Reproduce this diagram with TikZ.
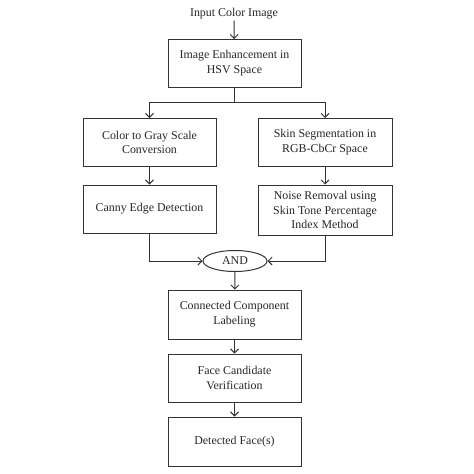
\documentclass[tikz,border=0pt]{standalone}
\usepackage{fontspec}
\setmainfont{Liberation Serif}
\usetikzlibrary{arrows.meta,shapes.geometric}
\begin{document}
\begin{tikzpicture}[x=1pt,y=-1pt,
  every node/.style={font=\fontsize{11.9}{14.8}\selectfont, text=black!85},
  stepbox/.style={draw=black!80, line width=1pt, minimum width=133pt, minimum height=48pt, inner sep=0pt, align=center},
  conn/.style={draw=black!80, line width=1pt},
  arr/.style={conn, -{Straight Barb[length=4pt,width=8pt,line width=0.9pt]}}]
\useasboundingbox (0,0) rectangle (474,474);
\node[inner sep=1pt] (title) at (234,14) {Input Color Image};
\node[stepbox] (b1) at (234.5,63.5) {Image Enhancement in\\HSV Space};
\node[stepbox] (b2L) at (149.5,142.5) {Color to Gray Scale\\Conversion};
\node[stepbox, minimum width=134pt] (b2R) at (325,142.5) {Skin Segmentation in\\RGB-CbCr Space};
\node[stepbox] (b3L) at (149.5,209) {Canny Edge Detection};
\node[stepbox, minimum width=134pt, minimum height=50pt] (b3R) at (325,210) {Noise Removal using\\Skin Tone Percentage\\Index Method};
\node[ellipse, draw=black!80, line width=1pt, minimum width=64pt, minimum height=21pt, inner sep=0pt] (and) at (235,261) {AND};
\node[stepbox, minimum height=49pt] (b4) at (234.5,314.5) {Connected Component\\Labeling};
\node[stepbox] (b5) at (234.5,378) {Face Candidate\\Verification};
\node[stepbox, minimum height=49pt] (b6) at (234.5,441.5) {Detected Face(s)};
\coordinate (br) at (234.5,102);
\draw[arr] (title) -- (b1);
\draw[conn] (b1.south) -- (br);
\draw[arr] (br) -| (b2L.north);
\draw[arr] (br) -| (b2R.north);
\draw[arr] (b2L) -- (b3L);
\draw[arr] (b2R) -- (b3R);
\draw[arr] (b3L.south) |- (and.west);
\draw[arr] (b3R.south) |- (and.east);
\draw[arr] (and) -- (b4);
\draw[arr] (b4) -- (b5);
\draw[arr] (b5) -- (b6);
\end{tikzpicture}
\end{document}
